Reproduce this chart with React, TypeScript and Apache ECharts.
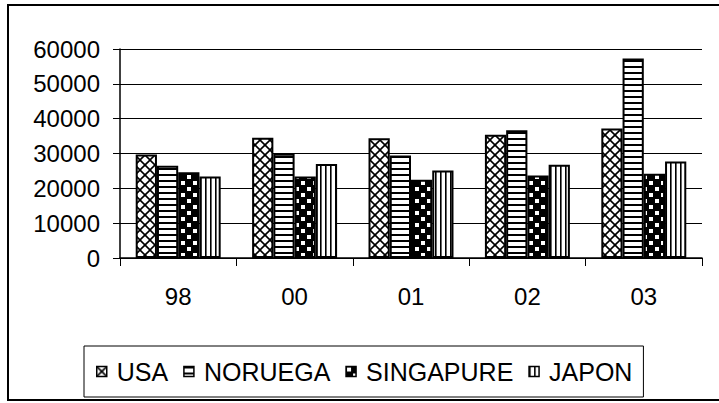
import React, { useEffect, useRef } from "react";
import * as echarts from "echarts";

const years = ["98", "00", "01", "02", "03"];
const seriesNames = ["USA", "NORUEGA", "SINGAPURE", "JAPON"];
const usa = [29700, 34500, 34400, 35400, 37200];
const noruega = [26500, 29900, 29400, 36700, 57300];
const singapure = [24600, 23400, 22500, 23700, 24200];
const japon = [23400, 27000, 25100, 26800, 27700];
const yMin = 0;
const yMax = 60000;
const yStep = 10000;

const FONT = "Liberation Sans";

function makePattern(w: number, h: number, draw: (ctx: CanvasRenderingContext2D) => void) {
  const c = document.createElement("canvas");
  c.width = w;
  c.height = h;
  const ctx = c.getContext("2d") as CanvasRenderingContext2D;
  ctx.fillStyle = "#fff";
  ctx.fillRect(0, 0, w, h);
  ctx.fillStyle = "#000";
  ctx.strokeStyle = "#000";
  draw(ctx);
  return { image: c, repeat: "repeat", imageWidth: w, imageHeight: h } as any;
}

export default function App() {
  const ref = useRef<HTMLDivElement>(null);
  useEffect(() => {
    if (!ref.current) return;
    const chart = echarts.init(ref.current, undefined, { renderer: "svg" });

    const pUSA = makePattern(10, 10, (ctx) => {
      ctx.lineWidth = 1.6;
      const seg = (a: number, b: number, c: number, d: number) => {
        ctx.beginPath();
        ctx.moveTo(a, b);
        ctx.lineTo(c, d);
        ctx.stroke();
      };
      seg(-1, 11, 11, -1);
      seg(-1, 1, 1, -1);
      seg(9, 11, 11, 9);
      seg(-1, -1, 11, 11);
      seg(9, -1, 11, 1);
      seg(-1, 9, 1, 11);
    });
    const pNOR = makePattern(6, 6, (ctx) => {
      ctx.fillRect(0, 0, 6, 2);
    });
    const pSIN = makePattern(12, 12, (ctx) => {
      ctx.fillRect(0, 0, 12, 12);
      ctx.fillStyle = "#fff";
      ctx.fillRect(1, 1, 4, 4);
      ctx.fillRect(7, 7, 4, 4);
    });
    const pJAP = makePattern(5, 5, (ctx) => {
      ctx.fillRect(0, 0, 1.6, 5);
    });

    const patterns = [pUSA, pNOR, pSIN, pJAP];
    const datas = [usa, noruega, singapure, japon];

    chart.setOption({
      animation: false,
      backgroundColor: "#fff",
      textStyle: { fontFamily: FONT, color: "#000" },
      grid: { left: 120, right: 17, top: 49, bottom: 145, containLabel: false },
      graphic: [
        {
          type: "rect",
          shape: { x: 8, y: 5, width: 720, height: 395 },
          style: { fill: "none", stroke: "#000", lineWidth: 2 },
          silent: true,
          z: -1,
        },
      ],
      legend: {
        data: seriesNames.map((name) => ({
          name,
          icon: "rect",
          itemStyle: { borderColor: "#000", borderWidth: 1.5 },
        })),
        left: 84,
        top: 346,
        itemWidth: 10,
        itemHeight: 10,
        itemGap: 15,
        padding: [13, 11, 13, 12],
        borderColor: "#000",
        borderWidth: 1,
        backgroundColor: "#fff",
        itemStyle: { borderColor: "#000", borderWidth: 1.5 },
        textStyle: {
          fontFamily: FONT,
          fontSize: 25,
          color: "#000",
          padding: [0, 0, 0, 5],
        },
      },
      xAxis: {
        type: "category",
        data: years,
        axisLine: { lineStyle: { color: "#000", width: 1.5 } },
        axisTick: { show: true, length: 8, interval: 0, lineStyle: { color: "#000", width: 1 } },
        axisLabel: { fontFamily: FONT, fontSize: 24, color: "#000", margin: 26 },
        splitLine: { show: false },
      },
      yAxis: {
        type: "value",
        min: yMin,
        max: yMax,
        interval: yStep,
        axisLine: { show: true, lineStyle: { color: "#000", width: 1.5 } },
        axisTick: { show: true, length: 7, lineStyle: { color: "#000", width: 1 } },
        axisLabel: {
          fontFamily: FONT,
          fontSize: 24,
          color: "#000",
          margin: 20,
          formatter: (v: number) => String(v),
        },
        splitLine: { show: true, lineStyle: { color: "#000", width: 1 } },
      },
      series: seriesNames.map((name, i) => ({
        name,
        type: "bar",
        data: datas[i],
        barGap: "0%",
        barCategoryGap: "27%",
        itemStyle: { color: patterns[i], borderColor: "#000", borderWidth: 2 },
      })),
    });

    return () => chart.dispose();
  }, []);

  return (
    <div
      ref={ref}
      style={{ position: "fixed", left: 0, top: 0, width: 719, height: 403 }}
    />
  );
}
